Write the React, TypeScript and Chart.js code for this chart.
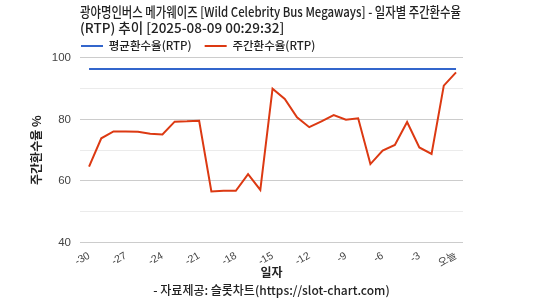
import { useEffect, useRef } from 'react';
import { Chart, registerables } from 'chart.js';

Chart.register(...registerables);

const days = [-30, -29, -28, -27, -26, -25, -24, -23, -22, -21, -20, -19, -18, -17, -16, -15, -14, -13, -12, -11, -10, -9, -8, -7, -6, -5, -4, -3, -2, -1, 0];
const weeklyRtp = [64.7, 73.9, 76.1, 76.1, 76.0, 75.4, 75.1, 79.3, 79.4, 79.6, 56.6, 56.8, 56.8, 62.2, 57.1, 90.0, 86.7, 80.7, 77.5, 79.4, 81.4, 79.9, 80.4, 65.5, 69.9, 71.7, 79.2, 70.9, 68.8, 91.0, 95.3];
const avgRtpValue = 96.4;
const avgRtp = days.map(() => avgRtpValue);
const xTickValues = [-30, -27, -24, -21, -18, -15, -12, -9, -6, -3, 0];
const todayLabel = '오늘';
const titleLines = ['광야명인버스 메가웨이즈 [Wild Celebrity Bus Megaways] - 일자별 주간환수율', '(RTP) 추이 [2025-08-09 00:29:32]'];
const seriesNames = ['평균환수율(RTP)', '주간환수율(RTP)'];
const yTitle = '주간환수율 %';
const xTitle = '일자';
const footer = '- 자료제공: 슬롯차트(https://slot-chart.com)';

const FONT = "'Noto Sans CJK KR', 'Noto Sans', sans-serif";
const TICK_FONT = "'Liberation Sans', Arial, 'Noto Sans CJK KR', sans-serif";

const LEGEND_PAD = 13;
const TITLE_MAX_WIDTH = 381;
const boxTweaks = {
  id: 'boxTweaks',
  beforeLayout(chart: any) {
    const lg = chart.legend;
    if (lg && !lg.__tweaked) {
      const origFit = lg.fit.bind(lg);
      lg.fit = function () {
        origFit();
        this.height -= 3.7;
      };
      const origDraw = lg.draw.bind(lg);
      lg.draw = function () {
        const shift = LEGEND_PAD - 1;
        this.left -= shift;
        this.right -= shift;
        origDraw();
        this.left += shift;
        this.right += shift;
      };
      lg.__tweaked = true;
    }
    const tb = chart.titleBlock;
    if (tb && !tb.__tweaked) {
      const origDraw = tb.draw.bind(tb);
      tb.draw = function () {
        const r = this.right;
        this.right = this.left + TITLE_MAX_WIDTH;
        origDraw();
        this.right = r;
      };
      tb.__tweaked = true;
    }
  },
};

export default function App() {
  const ref = useRef<HTMLCanvasElement | null>(null);
  useEffect(() => {
    document.body.style.margin = '0';
    const ctx = ref.current!;
    const chart = new Chart(ctx, {
      type: 'line',
      data: {
        datasets: [
          {
            label: seriesNames[0],
            data: days.map((d, i) => ({ x: d, y: avgRtp[i] })),
            borderColor: '#3366cc',
            backgroundColor: '#3366cc',
            borderWidth: 2,
            pointRadius: 0,
          },
          {
            label: seriesNames[1],
            data: days.map((d, i) => ({ x: d, y: weeklyRtp[i] })),
            borderColor: '#dc3912',
            backgroundColor: '#dc3912',
            borderWidth: 2,
            pointRadius: 0,
          },
        ],
      },
      plugins: [boxTweaks],
      options: {
        animation: false,
        responsive: true,
        maintainAspectRatio: false,
        layout: { padding: { left: 29, right: 81, top: 0, bottom: 0 } },
        plugins: {
          title: {
            display: true,
            text: titleLines,
            align: 'start',
            fullSize: false,
            color: '#222',
            font: { family: FONT, size: 13.5, weight: 500, lineHeight: 1.22 },
            padding: { top: 3.25, bottom: -9 },
          },
          subtitle: {
            display: true,
            position: 'bottom',
            fullSize: false,
            text: footer,
            color: '#222',
            font: { family: FONT, size: 12, weight: 500, lineHeight: 1.2 },
            padding: { top: 0, bottom: 2 },
          },
          legend: {
            position: 'top',
            align: 'start',
            fullSize: false,
            labels: {
              color: '#222',
              font: { family: FONT, size: 11.5, weight: 500 },
              boxWidth: 22,
              boxHeight: 2,
              padding: LEGEND_PAD,
              generateLabels: (c: any) =>
                Chart.defaults.plugins.legend.labels.generateLabels(c).map((l: any) => ({ ...l, lineWidth: 0 })),
            },
          },
          tooltip: { enabled: false },
        },
        scales: {
          x: {
            type: 'linear',
            min: -30.74,
            max: 0.57,
            grid: { display: false },
            border: { display: false },
            afterBuildTicks: (scale: any) => {
              scale.ticks = xTickValues.map((v) => ({ value: v }));
            },
            afterFit: (scale: any) => {
              scale.height = 41.1;
            },
            ticks: {
              autoSkip: false,
              minRotation: 30,
              maxRotation: 30,
              padding: -1,
              color: '#444',
              font: { family: TICK_FONT, size: 10.5 },
              callback: (v: any) => (v === 0 ? todayLabel : String(v)),
            },
            title: {
              display: true,
              text: xTitle,
              color: '#222',
              font: { family: FONT, size: 12, weight: 'bold', lineHeight: 1.2 },
              padding: { top: 0, bottom: 4 },
            },
          },
          y: {
            min: 40,
            max: 100,
            border: { display: false },
            afterFit: (scale: any) => {
              scale.width = 51;
            },
            grid: {
              drawTicks: false,
              color: (c: any) => (c.tick && c.tick.value % 20 === 0 ? '#cccccc' : '#ebebeb'),
            },
            ticks: {
              stepSize: 10,
              padding: 9,
              color: '#444',
              font: { family: TICK_FONT, size: 11.5 },
              callback: (v: any) => (v % 20 === 0 ? String(v) : ''),
            },
            title: {
              display: true,
              text: yTitle,
              color: '#222',
              font: { family: FONT, size: 12, weight: 'bold' },
              padding: { top: 0, bottom: 0 },
            },
          },
        },
      },
    });
    return () => chart.destroy();
  }, []);
  return (
    <div style={{ width: 544, height: 300, position: 'relative' }}>
      <canvas ref={ref} />
    </div>
  );
}
